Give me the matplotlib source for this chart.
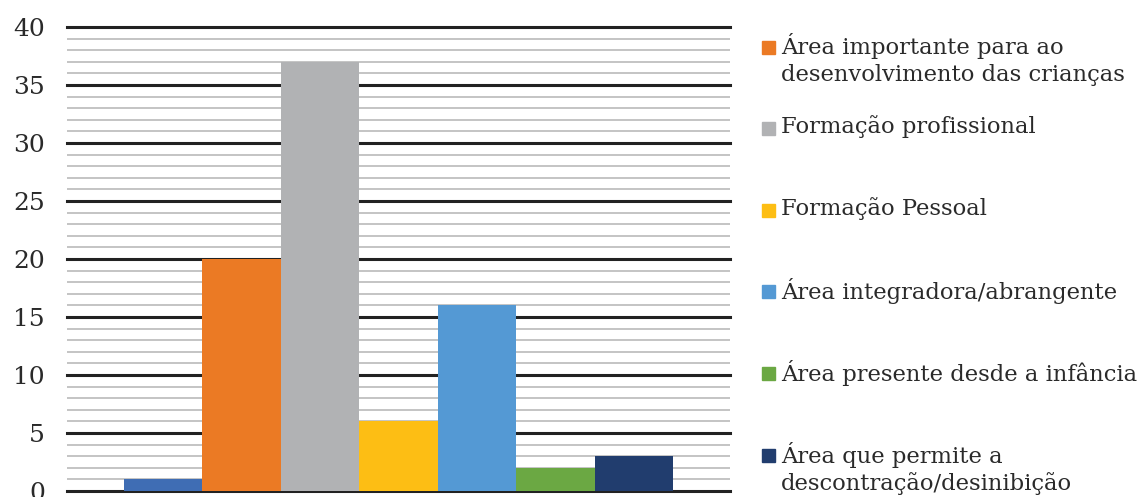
import matplotlib
matplotlib.use("Agg")
import matplotlib.pyplot as plt
from matplotlib.patches import Rectangle

series_labels = [
    "",
    "Área importante para ao\ndesenvolvimento das crianças",
    "Formação profissional",
    "Formação Pessoal",
    "Área integradora/abrangente",
    "Área presente desde a infância",
    "Área que permite a\ndescontração/desinibição",
]
values = [1, 20, 37, 6, 16, 2, 3]
colors = ["#3f6db4", "#eb7a24", "#b1b2b4", "#fdbe14", "#5499d4", "#6ba843", "#213d6e"]
yticks = [0, 5, 10, 15, 20, 25, 30, 35, 40]

W, H = 1143, 497
fig = plt.figure(figsize=(W / 100, H / 100), dpi=100)
plt.rcParams['font.family'] = 'DejaVu Serif'

ax = fig.add_axes([67 / W, 6 / H, 663 / W, 464 / H])

# minor grid every 1, major every 5
for v in range(0, 41):
    if v % 5:
        ax.axhline(v, color="#c4c4c4", lw=1.4, zorder=0)
for v in yticks:
    ax.axhline(v, color="#222222", lw=2.2, zorder=0, clip_on=False)

bw = 0.1183
start = -bw * len(values) / 2
for i, (v, c) in enumerate(zip(values, colors)):
    ax.bar(start + bw * (i + 0.5), v, width=bw, color=c, zorder=2)

ax.set_xlim(-0.5, 0.5)
ax.set_ylim(0, 40)
ax.set_xticks([])
ax.set_yticks(yticks)
ax.tick_params(axis="y", length=0, pad=16, labelsize=18, labelcolor="#2a2a2a")
for s in ax.spines.values():
    s.set_visible(False)

# legend, entries evenly spaced, marker aligned with the first text line
y0, step = 47, 81.6
for k, (lab, c) in enumerate(zip(series_labels[1:], colors[1:])):
    ym = y0 + step * k
    fig.patches.append(Rectangle((762 / W, 1 - (ym + 6.5) / H), 13 / W, 13 / H,
                                 transform=fig.transFigure, color=c))
    fig.text(781 / W, 1 - (ym - 13.5) / H, lab, fontsize=16.3, va="top", ha="left",
             color="#2a2a2a", linespacing=1.25)

fig.savefig("out.png", dpi=100)
